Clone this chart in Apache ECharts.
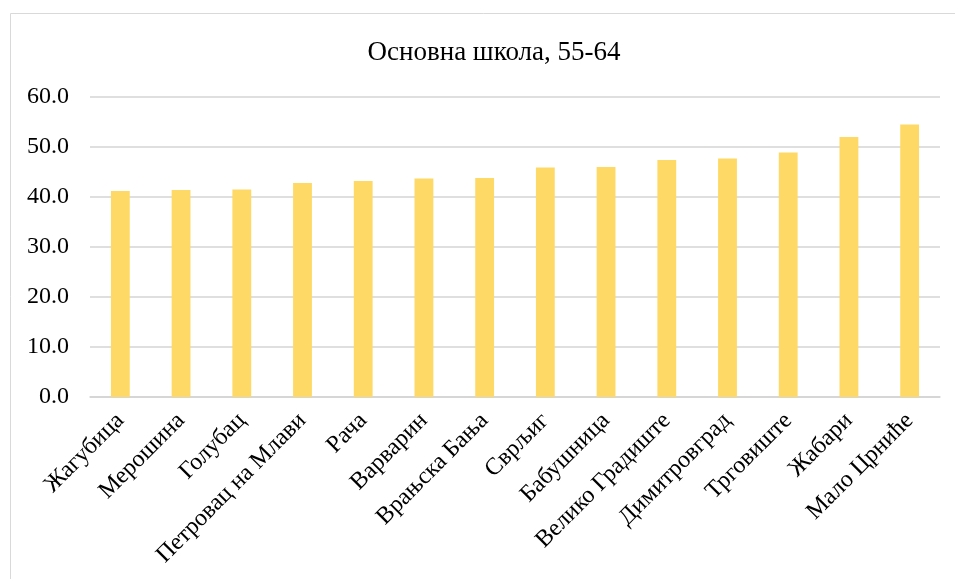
<!DOCTYPE html>
<html>
<head>
<meta charset="utf-8">
<script src="https://cdn.jsdelivr.net/npm/echarts@6/dist/echarts.min.js"></script>
<style>
  html, body { margin: 0; padding: 0; background: #fff; }
  #chart { width: 955px; height: 579px; }
</style>
</head>
<body>
<div id="chart"></div>
<script>
// Municipalities, sorted by share
const categories = ['Жагубица', 'Мерошина', 'Голубац', 'Петровац на Млави', 'Рача', 'Варварин',
  'Врањска Бања', 'Сврљиг', 'Бабушница', 'Велико Градиште', 'Димитровград', 'Трговиште',
  'Жабари', 'Мало Црниће'];
// Share with primary school, age 55-64 (%)
const values = [41.2, 41.4, 41.5, 42.8, 43.2, 43.7, 43.8, 45.9, 46.0, 47.4, 47.7, 48.9, 52.0, 54.5];
const titleText = 'Основна школа, 55-64';

const serif = '"Liberation Serif", "Times New Roman", serif';
const chart = echarts.init(document.getElementById('chart'));
chart.setOption({
  animation: false,
  backgroundColor: '#ffffff',
  graphic: [{
    type: 'rect',
    shape: { x: 10.5, y: 13.5, width: 980, height: 620 },
    style: { fill: 'none', stroke: '#d9d9d9', lineWidth: 1 },
    silent: true
  }],
  title: {
    text: titleText,
    left: 489,
    top: 34,
    textAlign: 'center',
    textStyle: { fontFamily: serif, fontSize: 27, fontWeight: 'normal', color: '#000' }
  },
  grid: { left: 90, right: 15, top: 97, bottom: 182 },
  xAxis: {
    type: 'category',
    data: categories,
    axisTick: { show: false },
    axisLine: { lineStyle: { color: '#d4d4d4', width: 1.5 } },
    axisLabel: {
      interval: 0,
      rotate: 45,
      margin: 20,
      fontFamily: serif,
      fontSize: 24,
      color: '#000'
    }
  },
  yAxis: {
    type: 'value',
    min: 0,
    max: 60,
    interval: 10,
    axisLine: { show: false },
    axisTick: { show: false },
    splitLine: { lineStyle: { color: '#d4d4d4', width: 1.5 } },
    axisLabel: {
      margin: 21,
      fontFamily: serif,
      fontSize: 24,
      color: '#000',
      formatter: v => v.toFixed(1)
    }
  },
  series: [{
    type: 'bar',
    data: values,
    barWidth: '31%',
    itemStyle: { color: '#FFD966' }
  }]
});
</script>
</body>
</html>
